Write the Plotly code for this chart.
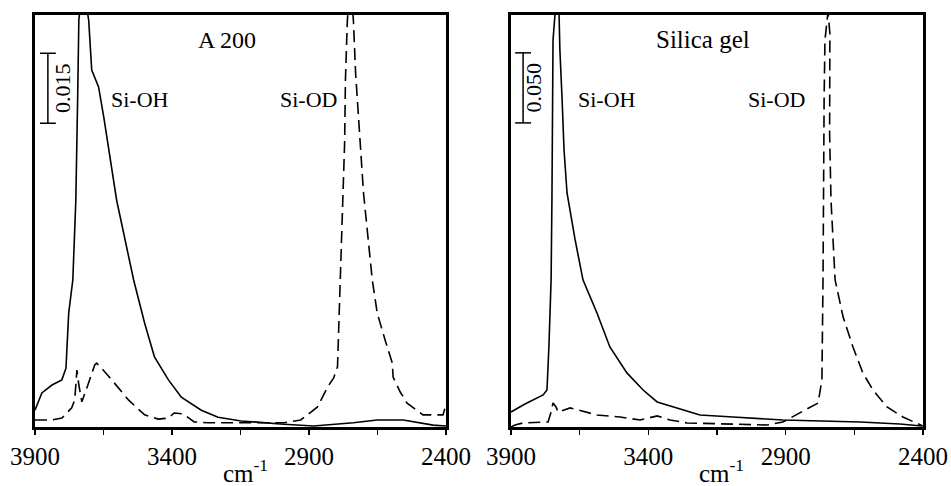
import plotly.graph_objects as go

# ---------------- data (wavenumber cm-1, absorbance) ----------------
# Left panel: A 200
a200_oh_wn = [3900, 3875, 3838, 3802, 3787, 3777, 3762, 3751, 3744, 3740, 3726, 3704, 3693, 3668,
              3649, 3602, 3540, 3500, 3464, 3413, 3366, 3293, 3232, 3148, 2992, 2883, 2738, 2651,
              2556, 2447, 2400]
a200_oh_abs = [0.0036, 0.0073, 0.0090, 0.0101, 0.0126, 0.0244, 0.0315, 0.0486, 0.0716, 0.0872, 0.0950,
               0.0872, 0.0765, 0.0729, 0.0664, 0.0486, 0.0315, 0.0223, 0.0150, 0.0101, 0.0064, 0.0036,
               0.0021, 0.0013, 0.0006, 0.0002, 0.0009, 0.0015, 0.0015, 0.0004, 0.0002]

a200_od_wn = [3900, 3838, 3802, 3766, 3755, 3747, 3740, 3729, 3707, 3682, 3675, 3657, 3620, 3559,
              3500, 3450, 3413, 3392, 3359, 3319, 3268, 3148, 2992, 2930, 2869, 2832, 2810, 2796,
              2792, 2785, 2770, 2767, 2760, 2749, 2738, 2730, 2720, 2701, 2669, 2651, 2622, 2596,
              2593, 2567, 2542, 2484, 2411, 2400]
a200_od_abs = [0.0015, 0.0015, 0.0019, 0.0041, 0.0058, 0.0122, 0.0090, 0.0054, 0.0090, 0.0133, 0.0137,
               0.0126, 0.0101, 0.0058, 0.0026, 0.0017, 0.0019, 0.0030, 0.0028, 0.0011, 0.0009, 0.0009,
               0.0009, 0.0015, 0.0043, 0.0086, 0.0105, 0.0129, 0.0208, 0.0315, 0.0609, 0.0744, 0.0872,
               0.0950, 0.0872, 0.0759, 0.0664, 0.0501, 0.0315, 0.0244, 0.0186, 0.0137, 0.0107, 0.0075,
               0.0051, 0.0026, 0.0026, 0.0047]

# Right panel: Silica gel
gel_oh_wn = [3900, 3849, 3783, 3769, 3762, 3754, 3751, 3747, 3740, 3733, 3725, 3722, 3714, 3707,
             3696, 3667, 3638, 3587, 3540, 3478, 3419, 3368, 3296, 3212, 3092, 2910, 2629, 2484, 2404]
gel_oh_abs = [0.0107, 0.0164, 0.0229, 0.0264, 0.0571, 0.1050, 0.1620, 0.2760, 0.2940, 0.3100, 0.2940,
              0.2690, 0.2340, 0.1980, 0.1670, 0.1340, 0.1050, 0.0814, 0.0571, 0.0386, 0.0264, 0.0179,
              0.0136, 0.0086, 0.0071, 0.0050, 0.0036, 0.0021, 0.0007]

gel_od_wn = [3900, 3885, 3856, 3765, 3754, 3747, 3736, 3729, 3685, 3656, 3623, 3587, 3503, 3430,
             3368, 3321, 3259, 3103, 2968, 2910, 2848, 2782, 2768, 2764, 2760, 2757, 2746, 2739,
             2740, 2735, 2720, 2691, 2655, 2619, 2582, 2531, 2473, 2411, 2400]
gel_od_abs = [0.0000, 0.0014, 0.0029, 0.0036, 0.0107, 0.0171, 0.0143, 0.0107, 0.0136, 0.0121, 0.0100,
              0.0086, 0.0071, 0.0050, 0.0079, 0.0050, 0.0029, 0.0021, 0.0014, 0.0036, 0.0100, 0.0171,
              0.0336, 0.1050, 0.2340, 0.2760, 0.2960, 0.2810, 0.2100, 0.1620, 0.1050, 0.0786, 0.0571,
              0.0386, 0.0264, 0.0143, 0.0071, 0.0021, 0.0007]

tick_vals = [3900, 3650, 3400, 3150, 2900, 2650, 2400]
tick_text = ["3900", "", "3400", "", "2900", "", "2400"]

panel_titles = ["A 200", "Silica gel"]
scale_labels = ["0.015", "0.050"]
scale_values = [0.015, 0.050]
peak_labels = ["Si-OH", "Si-OD"]
x_unit = "cm<sup>-1</sup>"

# ---------------- figure ----------------
W, H = 951, 486
FONT = "Liberation Serif, Times New Roman, serif"

fig = go.Figure()
line_solid = dict(color="black", width=1.6)
line_dash = dict(color="black", width=1.6, dash="12px,6px")

fig.add_trace(go.Scatter(x=a200_oh_wn, y=a200_oh_abs, mode="lines", line=line_solid, xaxis="x", yaxis="y"))
fig.add_trace(go.Scatter(x=a200_od_wn, y=a200_od_abs, mode="lines", line=line_dash, xaxis="x", yaxis="y"))
fig.add_trace(go.Scatter(x=gel_oh_wn, y=gel_oh_abs, mode="lines", line=line_solid, xaxis="x2", yaxis="y2"))
fig.add_trace(go.Scatter(x=gel_od_wn, y=gel_od_abs, mode="lines", line=line_dash, xaxis="x2", yaxis="y2"))

ydom = [59 / H, 471 / H]
xaxis_common = dict(range=[3900, 2400], tickvals=tick_vals, ticktext=tick_text, ticks="outside",
                    ticklen=5, tickwidth=1.5, tickcolor="black", showline=True, linewidth=3,
                    linecolor="black", mirror=True, showgrid=False, zeroline=False, automargin=False,
                    tickangle=0, tickfont=dict(family=FONT, size=25, color="black"))
yaxis_common = dict(showticklabels=False, ticks="", showline=True, linewidth=3, linecolor="black",
                    mirror=True, showgrid=False, zeroline=False, automargin=False)

fig.update_layout(
    width=W, height=H, autosize=False,
    margin=dict(l=0, r=0, t=0, b=0, pad=0),
    paper_bgcolor="white", plot_bgcolor="white",
    showlegend=False,
    hovermode=False,
    font=dict(family=FONT, color="black"),
    xaxis=dict(domain=[35 / W, 446 / W], anchor="y", **xaxis_common),
    yaxis=dict(domain=ydom, anchor="x", range=[0, 0.0883], **yaxis_common),
    xaxis2=dict(domain=[511 / W, 923 / W], anchor="y2", **xaxis_common),
    yaxis2=dict(domain=ydom, anchor="x2", range=[0, 0.294], **yaxis_common),
)

# scale bars (drawn in data units of absorbance)
panels = [("x", "y", 0.0651, 3853, 3882, 3824, 3802), ("x2", "y2", 0.217, 3856, 3885, 3827, 3818)]
for i, (xr, yr, y0, xc, xl, xrr, xt) in enumerate(panels):
    y1 = y0 + scale_values[i]
    fig.add_shape(type="line", xref=xr, yref=yr, x0=xc, x1=xc, y0=y0, y1=y1, line=dict(color="black", width=1.5))
    fig.add_shape(type="line", xref=xr, yref=yr, x0=xl, x1=xrr, y0=y0, y1=y0, line=dict(color="black", width=1.5))
    fig.add_shape(type="line", xref=xr, yref=yr, x0=xl, x1=xrr, y0=y1, y1=y1, line=dict(color="black", width=1.5))
    fig.add_annotation(xref=xr, yref=yr, x=xt, y=(y0 + y1) / 2, text=scale_labels[i], textangle=-90,
                       showarrow=False, font=dict(family=FONT, size=22, color="black"))

# text labels
ann = [
    ("x", "y", 3199, 0.0829, panel_titles[0], 24),
    ("x", "y", 3515, 0.0701, peak_labels[0], 22),
    ("x", "y", 2901, 0.0701, peak_labels[1], 22),
    ("x2", "y2", 3201, 0.2764, panel_titles[1], 25),
    ("x2", "y2", 3550, 0.2336, peak_labels[0], 22),
    ("x2", "y2", 2935, 0.2336, peak_labels[1], 22),
]
for xr, yr, x, y, t, s in ann:
    fig.add_annotation(xref=xr, yref=yr, x=x, y=y, text=t, showarrow=False,
                       xanchor="center", yanchor="middle",
                       font=dict(family=FONT, size=s, color="black"))

for xc in [245, 721]:
    fig.add_annotation(xref="paper", yref="paper", x=xc / W, y=1 - 471 / H, text=x_unit, showarrow=False,
                       xanchor="center", yanchor="middle",
                       font=dict(family=FONT, size=25, color="black"))

fig.write_html("out.html", config={"displayModeBar": False, "staticPlot": True},
               post_script="document.body.style.margin='0';document.body.style.padding='0';")
